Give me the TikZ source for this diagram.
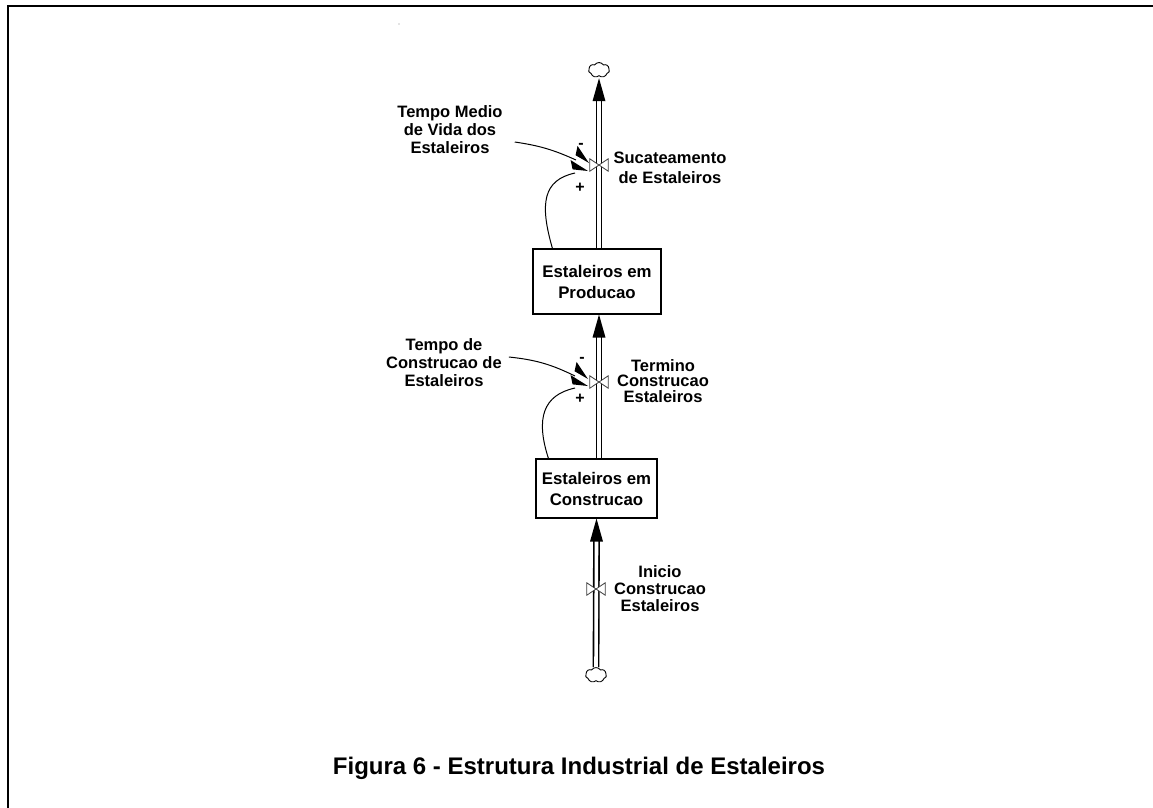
\documentclass[tikz,border=0pt]{standalone}
\usepackage{fontspec}
\setmainfont{Liberation Sans}
\usetikzlibrary{calc,shapes.symbols}

\tikzset{
  frameline/.style={line width=2.7pt},
  stockbox/.style={draw, line width=1.1pt, align=center, inner sep=0pt,
    font=\bfseries\fontsize{16.8}{21}\selectfont},
  lbl/.style={align=center, inner sep=0pt, font=\bfseries\fontsize{16.5}{18}\selectfont},
  lbltight/.style={lbl, font=\bfseries\fontsize{16.5}{15.5}\selectfont},
  sign/.style={inner sep=0pt, font=\bfseries\fontsize{16}{16}\selectfont},
  pipe/.style={draw=black, line width=1.6pt, double=white, double distance=3.6pt},
  flowhead/.style={fill=black},
  valve/.style={minimum width=18pt, minimum height=12pt, inner sep=0pt},
  valveline/.style={draw=black!75, fill=white, line width=0.8pt, line join=miter},
  source/.style={cloud, cloud puffs=7, cloud puff arc=115, aspect=1.35,
    minimum width=21pt, minimum height=15pt, inner sep=0pt,
    draw, line width=0.9pt, fill=white},
  info/.style={line width=1pt},
  infohead/.style={fill=black}
}

% filled arrow head whose tip sits at #1 and which points in direction #2 (degrees)
\newcommand{\infotip}[2]{%
  \fill[infohead] (#1) -- ++(#2+180-18:15.5pt) -- ++(#2+90:9.5pt) -- cycle;}

\begin{document}
\begin{tikzpicture}[x=1pt, y=-1pt]
\useasboundingbox (0,0) rectangle (1153,807);
\clip (0,0) rectangle (1153,807);

% outer frame (runs past the right and bottom edges)
\draw[frameline] (8,6) rectangle (1170,830);
\fill[black!45] (399,24) circle (0.6pt);

% stocks
\node[stockbox, minimum width=128pt, minimum height=65pt] (prod) at (597,281.5)
  {Estaleiros em\\Producao};
\node[stockbox, minimum width=121pt, minimum height=59pt] (cons) at (596.5,488.5)
  {Estaleiros em\\Construcao};

% clouds (source and sink)
\node[source] (sink) at (599,70) {};
\node[source] (src) at (596,675) {};

% valves
\node[valve] (v1) at (599,165) {};
\node[valve] (v2) at (599,382) {};
\node[valve] (v3) at (596,589) {};

% flow pipes
\coordinate (tipTop) at ([yshift=-2pt]sink.south);
\coordinate (tipMid) at ([xshift=2pt]prod.south);
\coordinate (tipLow) at (cons.south);
\draw[pipe] (prod.north -| v1) -- ([yshift=-22pt]tipTop);
\draw[pipe] (cons.north -| v2) -- ([yshift=-22pt]tipMid);
\draw[pipe] (src.north) -- ([yshift=-22pt]tipLow);
\fill[flowhead] (tipTop) -- ++(-6.5,23) -- ++(13,0) -- cycle;
\fill[flowhead] (tipMid) -- ++(-6.5,23) -- ++(13,0) -- cycle;
\fill[flowhead] (tipLow) -- ++(-6.5,23) -- ++(13,0) -- cycle;

% valve bow-ties
\foreach \v in {v1,v2,v3}
  \draw[valveline] (\v.north west) -- (\v.south east) -- (\v.north east)
    -- (\v.south west) -- cycle;

% flow labels
\node[lbl, font=\bfseries\fontsize{16.5}{20}\selectfont] (lsuc) at (670,168)
  {Sucateamento\\de Estaleiros};
\node[lbltight] (lter) at (663,381) {Termino\\Construcao\\Estaleiros};
\node[lbl, font=\bfseries\fontsize{16.5}{17}\selectfont] (lini) at (660,589)
  {Inicio\\Construcao\\Estaleiros};

% auxiliaries
\node[lbl] (tmv) at (450,130) {Tempo Medio\\de Vida dos\\Estaleiros};
\node[lbl] (tce) at (444,363) {Tempo de\\Construcao de\\Estaleiros};

% information links
\coordinate (e1) at ([xshift=-10pt,yshift=2pt]v1.center);
\coordinate (e2) at ([xshift=-11pt,yshift=-6pt]v1.center);
\coordinate (e3) at ([xshift=-11pt,yshift=3pt]v2.center);
\coordinate (e4) at ([xshift=-11pt,yshift=-4pt]v2.center);
\draw[info] ([xshift=12pt,yshift=-12pt]tmv.east) to[bend left=8] ([xshift=-13pt,yshift=3pt]e1);
\infotip{e1}{-12}
\draw[info] ([xshift=20pt]prod.north west) .. controls +(-13,-45) and +(-32,7) .. ([xshift=-13pt,yshift=-2pt]e2);
\infotip{e2}{12}
\draw[info] ([xshift=7pt,yshift=6pt]tce.east) to[bend left=10] ([xshift=-13pt,yshift=3pt]e3);
\infotip{e3}{-12}
\draw[info] ([xshift=13pt]cons.north west) .. controls +(-13,-40) and +(-32,7) .. ([xshift=-13pt,yshift=-2pt]e4);
\infotip{e4}{12}

% polarities
\node[sign] (s1) at (581,146) {-};
\node[sign] (s2) at (580,188) {+};
\node[sign] (s3) at (582,360) {-};
\node[sign] (s4) at (580,399) {+};

% caption
\node[font=\bfseries\fontsize{24}{28}\selectfont, inner sep=0pt] (cap) at (579,768)
  {Figura 6 - Estrutura Industrial de Estaleiros};
\end{tikzpicture}
\end{document}
